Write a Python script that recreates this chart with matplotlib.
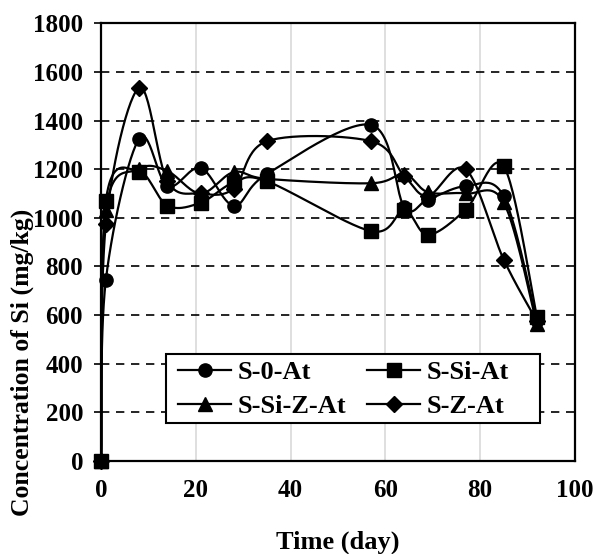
import numpy as np
import matplotlib
matplotlib.use("Agg")
import matplotlib.pyplot as plt
from matplotlib.lines import Line2D
from matplotlib.patches import Rectangle

days = [0, 1, 8, 14, 21, 28, 35, 57, 64, 69, 77, 85, 92]
s_0_at = [0, 745, 1325, 1130, 1205, 1050, 1180, 1382, 1045, 1075, 1130, 1088, 578]
s_si_at = [0, 1070, 1190, 1050, 1062, 1145, 1150, 945, 1030, 930, 1034, 1212, 594]
s_si_z_at = [0, 1030, 1200, 1192, 1100, 1188, 1160, 1142, 1180, 1105, 1100, 1063, 562]
s_z_at = [0, 975, 1535, 1150, 1100, 1120, 1315, 1315, 1172, 1090, 1199, 828, 575]

series = [("S-0-At", s_0_at, "o"), ("S-Si-At", s_si_at, "s"),
          ("S-Si-Z-At", s_si_z_at, "^"), ("S-Z-At", s_z_at, "D")]
msize = {"o": 9.5, "s": 9.5, "^": 10, "D": 8.5}


def smooth(x, y, n=30):
    x = np.asarray(x, float)
    y = np.asarray(y, float)
    P = np.column_stack([x, y])
    out = [P[0]]
    for i in range(len(P) - 1):
        p0 = P[i - 1] if i > 0 else P[i]
        p1 = P[i]
        p2 = P[i + 1]
        p3 = P[i + 2] if i + 2 < len(P) else P[i + 1]
        c1 = p1 + (p2 - p0) / 6.0
        c2 = p2 - (p3 - p1) / 6.0
        t = np.linspace(0, 1, n)[1:, None]
        b = ((1 - t) ** 3) * p1 + 3 * ((1 - t) ** 2) * t * c1 + 3 * (1 - t) * t ** 2 * c2 + t ** 3 * p2
        out.extend(b)
    out = np.array(out)
    return out[:, 0], out[:, 1]


plt.rcParams['font.family'] = ['Liberation Serif', 'DejaVu Serif']
plt.rcParams['font.weight'] = 'bold'

fig = plt.figure(figsize=(5.95, 5.54), dpi=100)
ax = fig.add_axes([0.170, 0.168, 0.796, 0.790])

ax.set_xlim(0, 100)
ax.set_ylim(0, 1800)
ax.set_xticks(np.arange(0, 101, 20))
ax.set_yticks(np.arange(0, 1801, 200))

for v in np.arange(20, 100, 20):
    ax.axvline(v, color="#d9d9d9", lw=1.2, zorder=0)
for v in np.arange(200, 1801, 200):
    ax.axhline(v, color="black", lw=1.2, ls=(0, (5, 4)), zorder=0)

handles = {}
for name, vals, mk in series:
    sx, sy = smooth(days, vals)
    ax.plot(sx, sy, color="black", lw=1.6, zorder=2)
    ax.plot(days, vals, ls="none", marker=mk, color="black",
            markersize=msize[mk], zorder=3, clip_on=False)
    handles[name] = Line2D([0], [0], color="black", lw=1.6, marker=mk,
                           markersize=msize[mk], label=name)

for s in ax.spines.values():
    s.set_linewidth(1.6)
    s.set_color("black")

ax.tick_params(axis="y", length=5, width=1.2, direction="out", labelsize=18, pad=8)
ax.tick_params(axis="x", length=0, labelsize=18, pad=13)
for lab in ax.get_xticklabels() + ax.get_yticklabels():
    lab.set_fontweight("bold")

ax.set_xlabel("Time (day)", fontsize=19, fontweight="bold")
ax.xaxis.set_label_coords(0.5, -0.158)
ax.set_ylabel("Concentration of Si (mg/kg)", fontsize=18.5, fontweight="bold")
ax.yaxis.set_label_coords(-0.141, 0.226)

# legend frame
frame = Rectangle((0.137, 0.087), 0.789, 0.157, transform=ax.transAxes,
                  facecolor="white", edgecolor="black", lw=1.5, zorder=4)
ax.add_patch(frame)

order = ["S-0-At", "S-Si-Z-At", "S-Si-At", "S-Z-At"]
leg = ax.legend(handles=[handles[k] for k in order], ncol=2, loc="center left",
                bbox_to_anchor=(0.163, 0.164),
                frameon=False,
                prop={"family": "Liberation Serif", "weight": "bold", "size": 19},
                handlelength=2.0, handletextpad=0.25, columnspacing=0.8,
                borderpad=0.0, labelspacing=0.4, borderaxespad=0)
leg.set_zorder(5)

fig.savefig("out.png", dpi=100)
